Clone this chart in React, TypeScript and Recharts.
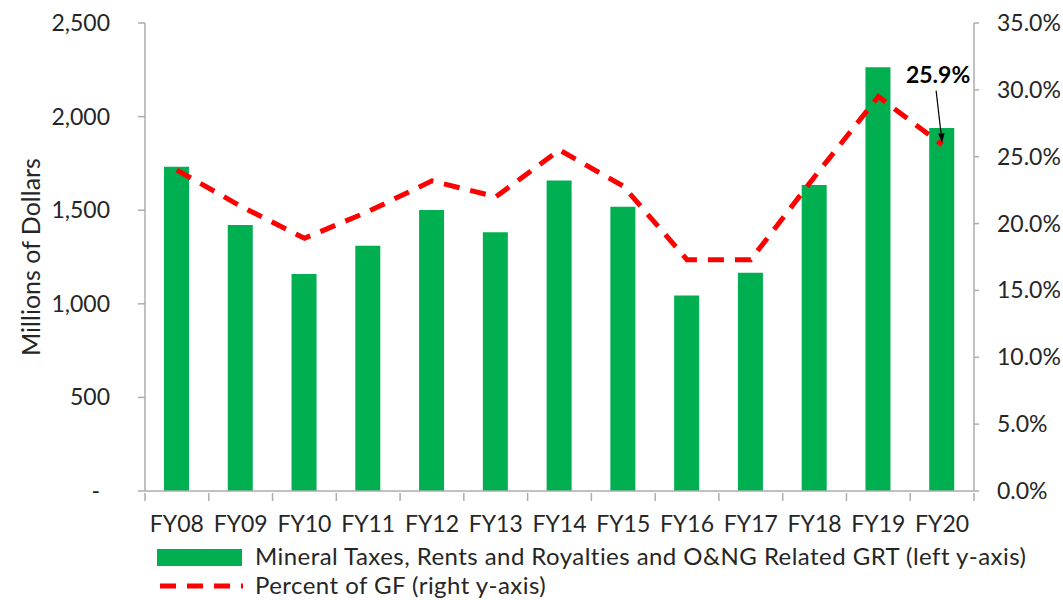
import React from 'react';
import { ComposedChart, Bar, Line, XAxis, YAxis, Legend, LabelList, Label } from 'recharts';

const categories = ['FY08', 'FY09', 'FY10', 'FY11', 'FY12', 'FY13', 'FY14', 'FY15', 'FY16', 'FY17', 'FY18', 'FY19', 'FY20'];
const mineralRevenue = [1732, 1421, 1159, 1310, 1501, 1382, 1658, 1519, 1045, 1166, 1635, 2263, 1939];
const percentOfGF = [24.0, 21.3, 18.9, 20.9, 23.2, 22.0, 25.5, 22.8, 17.3, 17.3, 23.5, 29.5, 25.9];
const leftTicks = [0, 500, 1000, 1500, 2000, 2500];
const rightTicks = [0, 5, 10, 15, 20, 25, 30, 35];
const barLabel = 'Mineral Taxes, Rents and Royalties and O&NG Related GRT (left y-axis)';
const lineLabel = 'Percent of GF (right y-axis)';
const annotationText = '25.9%';

const data = categories.map((c, i) => ({ name: c, revenue: mineralRevenue[i], pct: percentOfGF[i] }));

const FONT = 'Lato, "Open Sans", sans-serif';
const TEXT = '#262626';
const AXIS = '#ADADAD';
const GREEN = '#00B050';
const RED = '#FF0000';

const W = 1063;
const H = 600;
const LEFT_W = 145;
const RIGHT_W = 89;
const STEP = (W - LEFT_W - RIGHT_W) / categories.length;

const fmtLeft = (v: number) => (v === 0 ? '-' : v.toLocaleString('en-US'));
const fmtRight = (v: number) => `${v.toFixed(1)}%`;

const XTick = (props: any) => {
  const { x, y, payload, index } = props;
  const half = STEP / 2;
  return (
    <g>
      <line x1={x - half} x2={x - half} y1={y} y2={y + 8} stroke={AXIS} strokeWidth={1.5} />
      {index === categories.length - 1 && (
        <line x1={x + half} x2={x + half} y1={y} y2={y + 8} stroke={AXIS} strokeWidth={1.5} />
      )}
      <text x={x} y={y + 39} textAnchor="middle" fill={TEXT} fontSize={23} fontFamily={FONT}>
        {payload.value}
      </text>
    </g>
  );
};

const LeftTick = (props: any) => {
  const { x, y, payload } = props;
  const shift = payload.value === 0 ? -10 : 0;
  return (
    <text x={x + shift} y={y} dy={8} textAnchor="end" fill={TEXT} fontSize={23} fontFamily={FONT}>
      {fmtLeft(payload.value)}
    </text>
  );
};

const RightTick = (props: any) => {
  const { x, y, payload } = props;
  return (
    <text x={x} y={y} dy={8} textAnchor="start" fill={TEXT} fontSize={23} fontFamily={FONT}>
      {fmtRight(payload.value)}
    </text>
  );
};

const Annotation = (props: any) => {
  const { x, y, index } = props;
  if (index !== categories.length - 1) return null;
  return (
    <g>
      <text x={x - 4} y={y - 62} textAnchor="middle" fill="#000" fontSize={23} fontWeight="bold" fontFamily={FONT}>
        {annotationText}
      </text>
      <line x1={x - 6} y1={y - 54} x2={x - 0.5} y2={y - 6} stroke="#000" strokeWidth={1.2} />
      <polygon points={`${x},${y - 2} ${x - 4},${y - 11} ${x + 2.5},${y - 11.5}`} fill="#000" />
    </g>
  );
};

const LegendContent = () => (
  <svg width={W} height={62} style={{ display: 'block' }}>
    <rect x={157} y={11} width={85} height={17} fill={GREEN} />
    <text x={255} y={27} fill={TEXT} fontSize={24} letterSpacing={0.45} fontFamily={FONT}>{barLabel}</text>
    <line x1={160} x2={243} y1={48} y2={48} stroke={RED} strokeWidth={5} strokeDasharray="16 11" />
    <text x={255} y={56} fill={TEXT} fontSize={24} letterSpacing={0.45} fontFamily={FONT}>{lineLabel}</text>
  </svg>
);

export default function App() {
  return (
    <div style={{ position: 'absolute', left: 0, top: 0, background: '#fff' }}>
      <ComposedChart width={W} height={H} data={data} margin={{ top: 23, right: 0, left: 0, bottom: 0 }}>
        <XAxis
          dataKey="name"
          xAxisId="x"
          height={47}
          stroke={AXIS}
          strokeWidth={1.5}
          tickLine={false}
          tickSize={0}
          tick={<XTick />}
          interval={0}
        />
        <YAxis
          yAxisId="left"
          orientation="left"
          width={LEFT_W}
          domain={[0, 2500]}
          ticks={leftTicks}
          stroke={AXIS}
          strokeWidth={1.5}
          tickSize={7}
          tickMargin={28}
          tick={<LeftTick />}
          interval={0}
        >
          <Label
            content={(p: any) => {
              const vb = p.viewBox;
              const cy = vb.y + vb.height / 2;
              return (
                <text x={30} y={cy} transform={`rotate(-90, 30, ${cy})`} textAnchor="middle" dominantBaseline="central" fill={TEXT} fontSize={25} fontFamily={FONT}>
                  Millions of Dollars
                </text>
              );
            }}
          />
        </YAxis>
        <YAxis
          yAxisId="right"
          orientation="right"
          width={RIGHT_W}
          domain={[0, 35]}
          ticks={rightTicks}
          stroke={AXIS}
          strokeWidth={1.5}
          tickSize={5}
          tickMargin={18}
          tick={<RightTick />}
          interval={0}
        />
        <Legend verticalAlign="bottom" height={62} wrapperStyle={{ left: 0, width: W }} content={<LegendContent />} />
        <Bar xAxisId="x" yAxisId="left" dataKey="revenue" fill={GREEN} barSize={25} isAnimationActive={false} />
        <Line
          xAxisId="x"
          yAxisId="right"
          dataKey="pct"
          stroke={RED}
          strokeWidth={5}
          strokeDasharray="16 11"
          dot={false}
          activeDot={false}
          type="linear"
          isAnimationActive={false}
        >
          <LabelList dataKey="pct" content={<Annotation />} />
        </Line>
      </ComposedChart>
    </div>
  );
}
